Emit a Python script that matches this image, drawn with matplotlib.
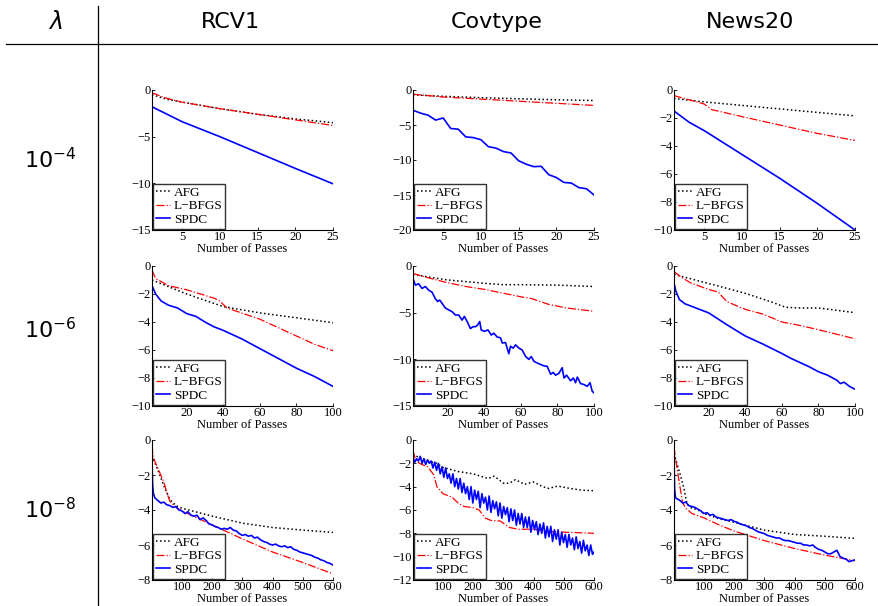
import numpy as np
import matplotlib.pyplot as plt

plt.rcParams['mathtext.fontset'] = 'dejavusans'

datasets = ['RCV1', 'Covtype', 'News20']
lambdas = [r'$10^{-4}$', r'$10^{-6}$', r'$10^{-8}$']

# ---- lambda = 1e-4 (passes 1..25) ----
rcv1_4_afg_x = [1, 3, 5, 10, 15, 20, 25]
rcv1_4_afg_y = [-0.5, -1.0, -1.3, -2.0, -2.6, -3.1, -3.5]
rcv1_4_lbfgs_x = [1, 3, 5, 10, 15, 20, 25]
rcv1_4_lbfgs_y = [-0.3, -0.9, -1.3, -2.0, -2.6, -3.2, -3.8]
rcv1_4_spdc_x = [1, 5, 10, 15, 20, 25]
rcv1_4_spdc_y = [-1.8, -3.4, -5.0, -6.7, -8.4, -10.05]

cov_4_afg_x = [1, 5, 10, 15, 20, 25]
cov_4_afg_y = [-0.7, -0.9, -1.1, -1.25, -1.4, -1.5]
cov_4_lbfgs_x = [1, 5, 10, 15, 20, 25]
cov_4_lbfgs_y = [-0.6, -1.0, -1.3, -1.6, -1.9, -2.2]
cov_4_spdc_x = list(range(1, 26))
cov_4_spdc_y = [-2.9, -3.3, -3.6, -4.3, -4.0, -5.5, -5.6, -6.7, -6.8, -7.1, -8.1, -8.3, -8.8,
                -9.0, -10.1, -10.6, -10.95, -10.9, -12.1, -12.5, -13.2, -13.3, -13.95, -14.1, -15.0]

news_4_afg_x = [1, 5, 10, 15, 20, 25]
news_4_afg_y = [-0.6, -0.85, -1.1, -1.35, -1.6, -1.85]
news_4_lbfgs_x = [1, 3, 5, 6, 10, 15, 20, 25]
news_4_lbfgs_y = [-0.4, -0.7, -1.0, -1.4, -1.9, -2.5, -3.1, -3.6]
news_4_spdc_x = [1, 3, 5, 10, 15, 20, 25]
news_4_spdc_y = [-1.5, -2.3, -2.9, -4.6, -6.3, -8.1, -10.0]

# ---- lambda = 1e-6 (passes 1..100) ----
rcv1_6_afg_x = [1, 20, 40, 60, 80, 100]
rcv1_6_afg_y = [-1.0, -2.0, -2.9, -3.35, -3.7, -4.05]
rcv1_6_lbfgs_x = [1, 3, 10, 20, 35, 38, 42, 60, 80, 90, 100]
rcv1_6_lbfgs_y = [-0.3, -0.9, -1.4, -1.7, -2.3, -2.5, -3.0, -3.8, -5.0, -5.6, -6.05]
rcv1_6_spdc_x = [1, 3, 6, 10, 15, 20, 25, 30, 35, 40, 50, 60, 70, 80, 90, 100]
rcv1_6_spdc_y = [-1.4, -2.0, -2.5, -2.8, -3.0, -3.4, -3.6, -4.0, -4.35, -4.6, -5.2, -5.9,
                 -6.6, -7.3, -7.9, -8.6]

cov_6_afg_x = [1, 10, 20, 40, 50, 60, 80, 100]
cov_6_afg_y = [-0.9, -1.2, -1.5, -1.85, -2.0, -2.0, -2.05, -2.2]
cov_6_lbfgs_x = [1, 10, 20, 30, 40, 50, 60, 66, 75, 85, 100]
cov_6_lbfgs_y = [-0.8, -1.3, -1.8, -2.2, -2.5, -2.9, -3.3, -3.5, -4.1, -4.5, -4.85]
cov_6_spdc_x = [1, 2.3, 4.1, 5.9, 7.8, 9.6, 11.4, 13.2, 14.5, 15.6, 16.9, 18.7, 20.5, 22.4,
                24.2, 26, 27.8, 29.1, 30.6, 32.4, 33.9, 35.2, 36.4, 37.5, 38.3, 40.1, 42, 43.8,
                45.2, 47, 48.9, 49.8, 51.6, 53.4, 54.3, 55.8, 57.1, 58.9, 60.7, 62.6, 64.4,
                65.7, 67.1, 69, 70.8, 72.6, 74.4, 76.3, 77.7, 79, 80.8, 82.6, 83.6, 85, 87.2,
                88.7, 89.9, 90.9, 92.7, 94.5, 96.3, 97.8, 99, 100]
cov_6_spdc_y = [-1.35, -2.06, -1.9, -2.4, -2.2, -2.6, -2.8, -3.5, -3.8, -3.65, -4.0, -4.5,
                -4.7, -4.9, -5.25, -5.25, -5.8, -5.4, -5.95, -6.7, -6.5, -6.5, -6.3, -5.95,
                -6.85, -7.0, -6.85, -7.4, -7.2, -7.6, -7.7, -8.25, -8.2, -9.4, -8.6, -8.8,
                -8.45, -8.8, -9.0, -9.7, -10.0, -9.7, -10.2, -10.4, -10.55, -10.7, -10.75,
                -11.6, -11.4, -11.7, -11.5, -10.9, -12.0, -11.7, -12.3, -12.0, -12.5, -11.9,
                -12.6, -12.7, -12.9, -12.5, -13.4, -13.6]

news_6_afg_x = [1, 20, 40, 55, 62, 70, 80, 100]
news_6_afg_y = [-0.6, -1.25, -1.95, -2.6, -2.95, -3.0, -3.0, -3.33]
news_6_lbfgs_x = [1, 5, 10, 20, 25, 30, 40, 50, 60, 70, 80, 100]
news_6_lbfgs_y = [-0.4, -0.8, -1.2, -1.68, -1.85, -2.55, -3.1, -3.45, -4.0, -4.25, -4.55, -5.2]
news_6_spdc_x = [1, 2, 4, 7, 12, 20, 30, 40, 50, 60, 65, 70, 75, 80, 85, 90, 92, 94, 97, 100]
news_6_spdc_y = [-1.2, -1.8, -2.4, -2.7, -2.95, -3.35, -4.2, -5.0, -5.6, -6.25, -6.6, -6.9,
                 -7.2, -7.55, -7.8, -8.15, -8.4, -8.3, -8.6, -8.8]

# ---- lambda = 1e-8 (passes 1..600) ----
rcv1_8_afg_x = [1, 20, 40, 60, 80, 100, 200, 300, 400, 500, 600]
rcv1_8_afg_y = [-0.9, -1.7, -2.6, -3.4, -3.75, -3.9, -4.35, -4.75, -5.0, -5.15, -5.28]
rcv1_8_lbfgs_x = [1, 5, 20, 40, 50, 60, 80, 100, 200, 300, 400, 500, 600]
rcv1_8_lbfgs_y = [-0.3, -1.0, -1.6, -2.4, -3.0, -3.5, -3.85, -4.05, -4.85, -5.65, -6.4, -7.0, -7.65]
rcv1_8_spdc_x = [1, 3, 5] + list(range(10, 601, 10))
rcv1_8_spdc_y = [-1.2, -2.5, -3.0,
                 -3.3, -3.45, -3.6, -3.55, -3.7, -3.75, -3.85, -3.8, -4.0, -4.05,
                 -4.2, -4.1, -4.3, -4.35, -4.3, -4.55, -4.45, -4.6, -4.8, -4.85,
                 -4.95, -5.0, -5.1, -5.05, -5.1, -5.0, -5.15, -5.2, -5.35, -5.45,
                 -5.4, -5.5, -5.45, -5.6, -5.55, -5.7, -5.8, -5.85, -5.95, -6.0,
                 -5.95, -6.05, -6.1, -6.05, -6.15, -6.1, -6.25, -6.3, -6.4, -6.45,
                 -6.5, -6.55, -6.6, -6.7, -6.75, -6.85, -6.9, -7.0, -7.05, -7.15]

cov_8_afg_x = [1, 20, 50, 80, 100, 150, 200, 230, 250, 270, 300, 320, 340, 370, 400, 430,
               450, 480, 520, 560, 600]
cov_8_afg_y = [-1.2, -1.5, -1.8, -2.0, -2.35, -2.7, -2.9, -3.15, -3.3, -3.1, -3.7, -3.7,
               -3.4, -3.8, -3.6, -4.0, -4.15, -3.95, -4.15, -4.3, -4.35]
cov_8_lbfgs_x = [1, 10, 30, 50, 70, 80, 100, 130, 150, 170, 200, 220, 240, 260, 290, 320,
                 350, 400, 450, 500, 550, 600]
cov_8_lbfgs_y = [-0.9, -1.8, -2.1, -2.3, -3.0, -4.0, -4.6, -4.9, -5.4, -5.7, -5.8, -6.0,
                 -6.7, -6.9, -6.95, -7.5, -7.65, -7.65, -7.85, -7.9, -7.95, -8.0]
cov_8_spdc_x = list(range(1, 596, 6)) + [600]
cov_8_spdc_y = [-1.5, -1.9, -1.6, -1.8, -1.4, -2.0, -1.6, -2.1, -1.7, -2.0,
                -1.8, -2.4, -1.9, -2.6, -2.0, -2.9, -2.3, -3.2, -2.4, -3.3,
                -2.9, -3.7, -2.9, -4.0, -3.3, -4.2, -3.3, -4.5, -3.7, -4.6,
                -4.0, -5.1, -4.0, -5.4, -4.3, -5.1, -4.4, -5.8, -4.6, -5.4,
                -4.9, -6.0, -4.8, -6.2, -5.2, -5.9, -5.3, -6.5, -5.4, -6.7,
                -5.7, -6.4, -5.8, -7.0, -5.9, -6.9, -6.0, -7.3, -6.3, -7.2,
                -6.3, -7.5, -6.6, -7.5, -6.6, -7.9, -6.9, -7.7, -7.0, -8.1,
                -7.2, -8.0, -7.1, -8.4, -7.4, -8.3, -7.4, -8.7, -7.7, -8.5,
                -7.7, -9.0, -7.9, -8.8, -8.1, -9.2, -8.1, -9.0, -8.4, -9.4,
                -8.3, -9.3, -8.7, -9.7, -8.6, -9.5, -9.0, -9.9, -9.0, -9.8, -9.6]

news_8_afg_x = [1, 22, 33, 44, 55, 80, 100, 150, 200, 300, 400, 500, 600]
news_8_afg_y = [-0.8, -2.0, -2.7, -3.65, -3.85, -4.0, -4.2, -4.5, -4.7, -5.15, -5.4, -5.5, -5.62]
news_8_lbfgs_x = [1, 10, 20, 30, 40, 60, 100, 150, 200, 300, 400, 500, 600]
news_8_lbfgs_y = [-0.4, -1.5, -2.6, -3.6, -3.9, -4.2, -4.45, -4.85, -5.2, -5.75, -6.2, -6.58, -6.9]
news_8_spdc_x = [1, 3, 6] + list(range(10, 601, 10))
news_8_spdc_y = [-1.0, -2.8, -3.3,
                 -3.35, -3.45, -3.6, -3.55, -3.75, -3.8, -3.85, -3.95, -4.05, -4.2,
                 -4.15, -4.3, -4.25, -4.4, -4.45, -4.5, -4.55, -4.6, -4.55, -4.65,
                 -4.7, -4.8, -4.85, -4.9, -5.0, -5.05, -5.15, -5.25, -5.3, -5.35,
                 -5.45, -5.5, -5.55, -5.6, -5.6, -5.7, -5.75, -5.75, -5.8, -5.85,
                 -5.9, -5.9, -6.0, -6.0, -6.05, -6.0, -6.15, -6.25, -6.3, -6.4,
                 -6.5, -6.5, -6.4, -6.3, -6.65, -6.75, -6.8, -6.95, -6.9, -6.85]

panels = [
    [(rcv1_4_afg_x, rcv1_4_afg_y, rcv1_4_lbfgs_x, rcv1_4_lbfgs_y, rcv1_4_spdc_x, rcv1_4_spdc_y),
     (cov_4_afg_x, cov_4_afg_y, cov_4_lbfgs_x, cov_4_lbfgs_y, cov_4_spdc_x, cov_4_spdc_y),
     (news_4_afg_x, news_4_afg_y, news_4_lbfgs_x, news_4_lbfgs_y, news_4_spdc_x, news_4_spdc_y)],
    [(rcv1_6_afg_x, rcv1_6_afg_y, rcv1_6_lbfgs_x, rcv1_6_lbfgs_y, rcv1_6_spdc_x, rcv1_6_spdc_y),
     (cov_6_afg_x, cov_6_afg_y, cov_6_lbfgs_x, cov_6_lbfgs_y, cov_6_spdc_x, cov_6_spdc_y),
     (news_6_afg_x, news_6_afg_y, news_6_lbfgs_x, news_6_lbfgs_y, news_6_spdc_x, news_6_spdc_y)],
    [(rcv1_8_afg_x, rcv1_8_afg_y, rcv1_8_lbfgs_x, rcv1_8_lbfgs_y, rcv1_8_spdc_x, rcv1_8_spdc_y),
     (cov_8_afg_x, cov_8_afg_y, cov_8_lbfgs_x, cov_8_lbfgs_y, cov_8_spdc_x, cov_8_spdc_y),
     (news_8_afg_x, news_8_afg_y, news_8_lbfgs_x, news_8_lbfgs_y, news_8_spdc_x, news_8_spdc_y)],
]

row_xmax = [25, 100, 600]
row_xticks = [[5, 10, 15, 20, 25], [20, 40, 60, 80, 100], [100, 200, 300, 400, 500, 600]]
yticks = [
    [[0, -5, -10, -15], [0, -5, -10, -15, -20], [0, -2, -4, -6, -8, -10]],
    [[0, -2, -4, -6, -8, -10], [0, -5, -10, -15], [0, -2, -4, -6, -8, -10]],
    [[0, -2, -4, -6, -8], [0, -2, -4, -6, -8, -10, -12], [0, -2, -4, -6, -8]],
]

W, H = 879, 606
fig = plt.figure(figsize=(W / 100, H / 100), dpi=100)

# table frame
fig.add_artist(plt.Line2D([98 / W, 98 / W], [0, 1 - 6 / H], color='black', lw=0.9))
fig.add_artist(plt.Line2D([6 / W, 1], [1 - 44 / H, 1 - 44 / H], color='black', lw=0.9))
fig.text(55 / W, 1 - 22 / H, r'$\lambda$', ha='center', va='center', fontsize=17)
for name, cx in zip(datasets, [230, 497, 750]):
    fig.text(cx / W, 1 - 22 / H, name, ha='center', va='center', fontsize=16)
for lab, cy in zip(lambdas, [160, 330, 510]):
    fig.text(50 / W, 1 - cy / H, lab, ha='center', va='center', fontsize=16)

col_left = [152, 413, 674]
row_top = [90, 266, 440]
aw, ah = 181, 140
serif = 'Liberation Serif'

for r in range(3):
    for c in range(3):
        ax = fig.add_axes([col_left[c] / W, 1 - (row_top[r] + ah) / H, aw / W, ah / H])
        ax_, ay_, lx, ly, sx, sy = panels[r][c]
        ax.plot(ax_, ay_, color='black', ls=':', lw=1.1, label='AFG')
        ax.plot(lx, ly, color='red', ls='-.', lw=0.9, label='L\u2212BFGS')
        ax.plot(sx, sy, color='blue', ls='-', lw=1.2, label='SPDC')
        ax.set_xlim(1, row_xmax[r])
        yt = yticks[r][c]
        ax.set_ylim(min(yt), 0)
        ax.set_xticks(row_xticks[r])
        ax.set_yticks(yt)
        ax.set_yticklabels([str(v).replace('-', '\u2212') for v in yt])
        ax.spines['top'].set_visible(False)
        ax.spines['right'].set_visible(False)
        ax.tick_params(direction='in', length=2, width=0.6, labelsize=9, pad=1)
        for t in ax.get_xticklabels() + ax.get_yticklabels():
            t.set_fontfamily(serif)
        ax.set_xlabel('Number of Passes', fontsize=9, family=serif, labelpad=-0.5)
        leg = ax.legend(loc='lower left', prop={'family': serif, 'size': 9.5},
                        frameon=True, fancybox=False, borderaxespad=0.1, borderpad=0.2,
                        labelspacing=0.1, handlelength=1.1, handletextpad=0.25)
        leg.get_frame().set_edgecolor('black')
        leg.get_frame().set_linewidth(1.0)

fig.savefig('out.png', dpi=100)
